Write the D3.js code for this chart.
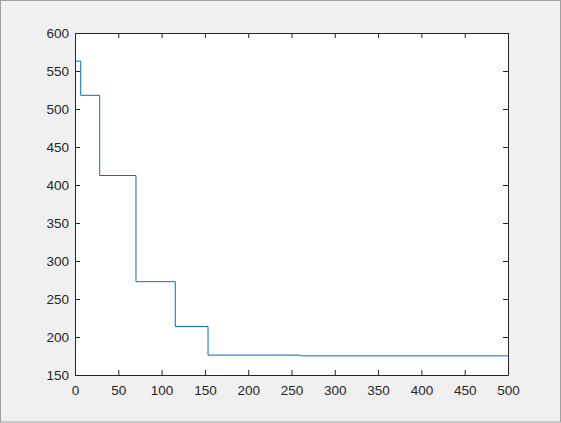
<!DOCTYPE html>
<html>
<head>
<meta charset="utf-8">
<script src="https://cdn.jsdelivr.net/npm/d3@7"></script>
<style>
  body { margin: 0; background: #f0f0f0; }
  svg { display: block; }
  .tick text { font-family: "Liberation Sans", Arial, sans-serif; font-size: 13.5px; fill: #262626; }
  .domain, .tick line { stroke: #262626; }
</style>
</head>
<body>
<div id="container"></div>
<script>
// step data: value held from each x until the next one
const stepX = [0, 6.6, 28.5, 70.4, 115.8, 153.6, 260, 500];
const stepY = [563, 518, 412.5, 272.8, 213.8, 176.2, 175.2, 175.2];
const xTicks = [0, 50, 100, 150, 200, 250, 300, 350, 400, 450, 500];
const yTicks = [150, 200, 250, 300, 350, 400, 450, 500, 550, 600];

const w = 561;
const h = 423;
const padL = 75, padR = 508, padT = 33, padB = 375;

const svg = d3.select("#container")
  .append("svg")
  .attr("width", w)
  .attr("height", h);

// window frame
svg.append("rect")
  .attr("x", 0.5).attr("y", 0.5)
  .attr("width", w - 1).attr("height", h - 1.5)
  .attr("fill", "#f0f0f0")
  .attr("stroke", "#a0a0a0");

svg.append("rect")
  .attr("x", padL).attr("y", padT)
  .attr("width", padR - padL).attr("height", padB - padT)
  .attr("fill", "#fff");

const xScale = d3.scaleLinear().domain([0, 500]).range([padL, padR]);
const yScale = d3.scaleLinear().domain([150, 600]).range([padB, padT]);

// the line
const points = stepX.map((x, i) => [x, stepY[i]]);
const line = d3.line()
  .x(d => xScale(d[0]))
  .y(d => yScale(d[1]))
  .curve(d3.curveStepAfter);

svg.append("path")
  .datum(points)
  .attr("d", line)
  .attr("fill", "none")
  .attr("stroke", "#0072bd")
  .attr("stroke-width", 1);

// axes, ticks pointing inward like matlab
svg.append("g")
  .attr("transform", `translate(0, ${padB})`)
  .call(d3.axisBottom(xScale).tickValues(xTicks).tickSizeInner(-5).tickSizeOuter(0).tickPadding(10))
  .call(g => g.selectAll("text").attr("dy", "0.71em"));

svg.append("g")
  .attr("transform", `translate(0, ${padT})`)
  .call(d3.axisTop(xScale).tickValues(xTicks).tickSizeInner(-5).tickSizeOuter(0).tickFormat(""));

svg.append("g")
  .attr("transform", `translate(${padL}, 0)`)
  .call(d3.axisLeft(yScale).tickValues(yTicks).tickSizeInner(-5).tickSizeOuter(0).tickPadding(6));

svg.append("g")
  .attr("transform", `translate(${padR}, 0)`)
  .call(d3.axisRight(yScale).tickValues(yTicks).tickSizeInner(-5).tickSizeOuter(0).tickFormat(""));

svg.selectAll(".domain").attr("stroke-width", 1);
</script>
</body>
</html>
